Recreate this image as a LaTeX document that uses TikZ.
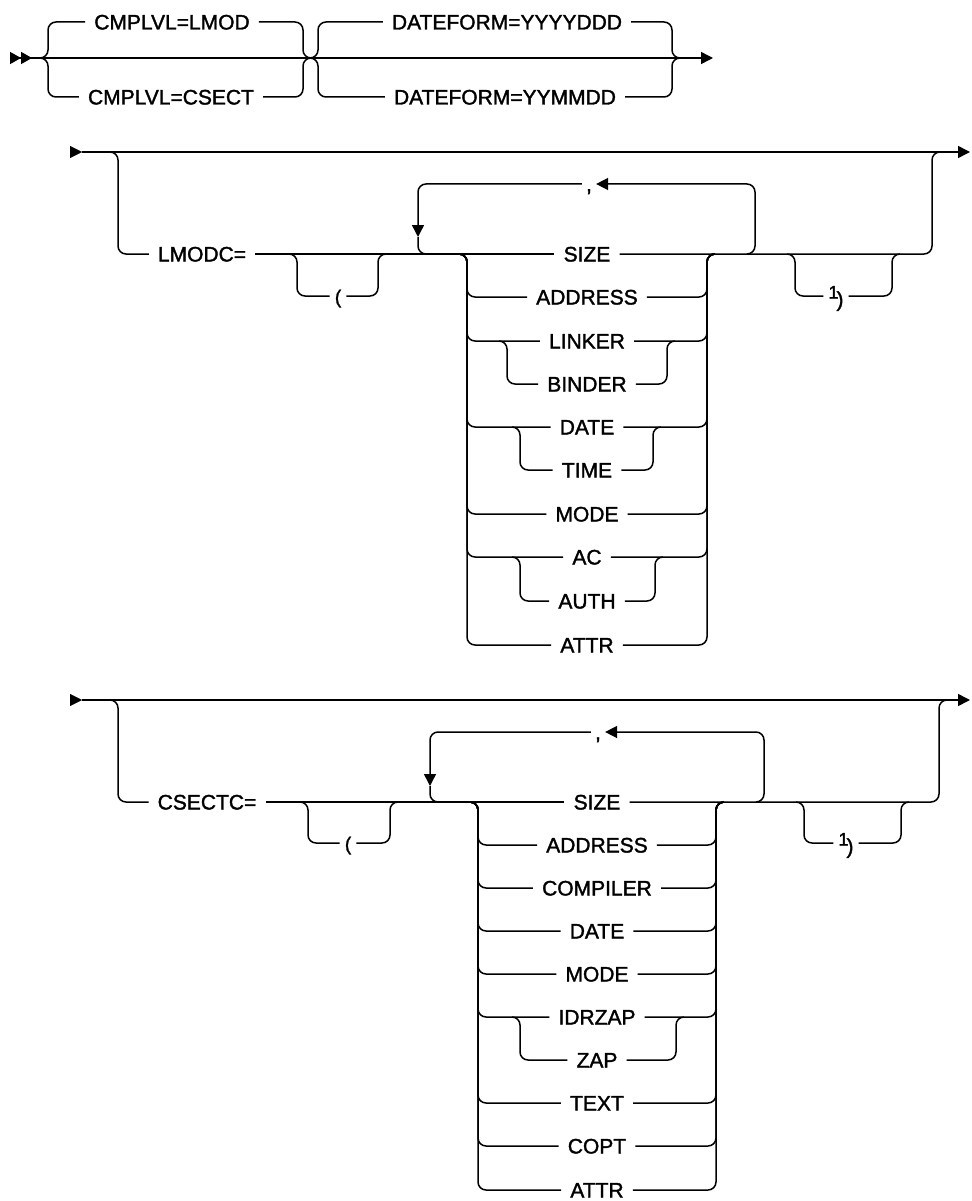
\documentclass[tikz,border=0pt]{standalone}
\usepackage{fontspec}
\setmainfont{Liberation Sans}
\newfontfamily\railfont{Liberation Sans}[FakeBold=1.6]
\usetikzlibrary{arrows.meta}

\tikzset{
  rail/.style={line width=1.5pt, rounded corners=8pt},
  tip/.style={-{Triangle[length=12pt,width=12pt]}},
  kw/.style={font=\railfont\fontsize{21}{21}\selectfont, inner xsep=9pt, inner ysep=0pt,
    text height=15pt, text depth=0pt},
  sym/.style={kw, inner xsep=5pt},
}

\begin{document}
\begin{tikzpicture}[x=1pt, y=-1pt]
  \useasboundingbox (0,0) rectangle (971,1201);

  % Line 1: CMPLVL and DATEFORM
  \coordinate (r1s) at (30,58);
  \coordinate (r1e) at (713,58);
  \draw[line width=1.5pt, -{Triangle[length=11pt,width=12pt] Triangle[length=11pt,width=12pt,sep=-2pt]}]
    (10,58) -- (r1s);
  \draw[rail, tip] (r1s) -- (r1e);
  \node[kw] (lmod) at (172,22) {CMPLVL=LMOD};
  \node[kw] (csect) at (171,97) {CMPLVL=CSECT};
  \node[kw] (yyyy) at (507,22) {DATEFORM=YYYYDDD};
  \node[kw] (yymm) at (505,97) {DATEFORM=YYMMDD};
  \foreach \n/\y in {lmod/22, csect/97} {
    \draw[rail] (40,58) -| (48,\y) -- (\n.west);
    \draw[rail] (\n.east) -| (303,58) -- (310,58);
  }
  \foreach \n/\y in {yyyy/22, yymm/97} {
    \draw[rail] (310,58) -| (318,\y) -- (\n.west);
    \draw[rail] (\n.east) -| (672,58) -- (680,58);
  }

  % Line 2: LMODC
  \coordinate (r2s) at (82,152);
  \coordinate (r2e) at (970,152);
  \draw[tip] (70,152) -- (r2s);
  \draw[rail, tip] (r2s) -- (r2e);
  \node[kw] (lmodc) at (202,254) {LMODC=};
  \node[sym] (lpar2) at (338,296) {\fontsize{19}{19}\selectfont (};
  \node[sym] (rpar2) at (836,296)
    {\raisebox{5pt}{\fontsize{18}{18}\selectfont 1}\kern-2pt\raisebox{-3pt}{)}};
  \node[kw, inner xsep=4pt] (com2) at (589,184) {,};
  \foreach \t/\y in {SIZE/254, ADDRESS/297, LINKER/341, BINDER/384, DATE/427,
                     TIME/470, MODE/514, AC/557, AUTH/601, ATTR/645}
    \node[kw] (lm-\t) at (587,\y) {\t};

  \draw[rail] (110,152) -| (118,254) -- (lmodc.west);
  \draw[rail] (lmodc.east) -- (lm-SIZE.west);
  \draw[rail] (lm-SIZE.east) -| (932,152) -- (940,152);
  \draw[rail] (289,254) -| (297,296) -- (lpar2.west);
  \draw[rail] (lpar2.east) -| (378,254) -- (386,254);
  \draw[rail, tip] (747,254) -| (755,184) -- (com2.east);
  \draw[rail, tip] (com2.west) -| (418,237);
  \draw[rail] (418,237) |- (426,254);
  \foreach \t/\y in {ADDRESS/297, LINKER/341, DATE/427, MODE/514, AC/557, ATTR/645} {
    \draw[rail] (459,254) -| (467,\y) -- (lm-\t.west);
    \draw[rail] (lm-\t.east) -| (707,254) -- (715,254);
  }
  \draw[rail] (499,341) -| (507,384) -- (lm-BINDER.west);
  \draw[rail] (lm-BINDER.east) -| (667,341) -- (675,341);
  \draw[rail] (512,427) -| (520,470) -- (lm-TIME.west);
  \draw[rail] (lm-TIME.east) -| (653,427) -- (661,427);
  \draw[rail] (512,557) -| (520,601) -- (lm-AUTH.west);
  \draw[rail] (lm-AUTH.east) -| (655,557) -- (663,557);
  \draw[rail] (787,254) -| (795,296) -- (rpar2.west);
  \draw[rail] (rpar2.east) -| (892,254) -- (900,254);

  % Line 3: CSECTC
  \coordinate (r3s) at (82,700);
  \coordinate (r3e) at (970,700);
  \draw[tip] (70,700) -- (r3s);
  \draw[rail, tip] (r3s) -- (r3e);
  \node[kw] (csectc) at (207,802) {CSECTC=};
  \node[sym] (lpar3) at (348,843) {\fontsize{19}{19}\selectfont (};
  \node[sym] (rpar3) at (846,843)
    {\raisebox{5pt}{\fontsize{18}{18}\selectfont 1}\kern-2pt\raisebox{-3pt}{)}};
  \node[kw, inner xsep=4pt] (com3) at (598,732) {,};
  \foreach \t/\y in {SIZE/802, ADDRESS/845, COMPILER/888, DATE/931, MODE/974,
                     IDRZAP/1017, ZAP/1060, TEXT/1103, COPT/1146, ATTR/1190}
    \node[kw] (cs-\t) at (597,\y) {\t};

  \draw[rail] (110,700) -| (118,802) -- (csectc.west);
  \draw[rail] (csectc.east) -- (cs-SIZE.west);
  \draw[rail] (cs-SIZE.east) -| (939,700) -- (947,700);
  \draw[rail] (300,802) -| (308,843) -- (lpar3.west);
  \draw[rail] (lpar3.east) -| (390,802) -- (398,802);
  \draw[rail, tip] (756,802) -| (764,732) -- (com3.east);
  \draw[rail, tip] (com3.west) -| (430,786);
  \draw[rail] (430,786) |- (438,802);
  \foreach \t/\y in {ADDRESS/845, COMPILER/888, DATE/931, MODE/974, IDRZAP/1017,
                     TEXT/1103, COPT/1146, ATTR/1190} {
    \draw[rail] (470,802) -| (478,\y) -- (cs-\t.west);
    \draw[rail] (cs-\t.east) -| (716,802) -- (724,802);
  }
  \draw[rail] (512,1017) -| (520,1060) -- (cs-ZAP.west);
  \draw[rail] (cs-ZAP.east) -| (676,1017) -- (684,1017);
  \draw[rail] (796,802) -| (804,843) -- (rpar3.west);
  \draw[rail] (rpar3.east) -| (901,802) -- (909,802);
\end{tikzpicture}
\end{document}
